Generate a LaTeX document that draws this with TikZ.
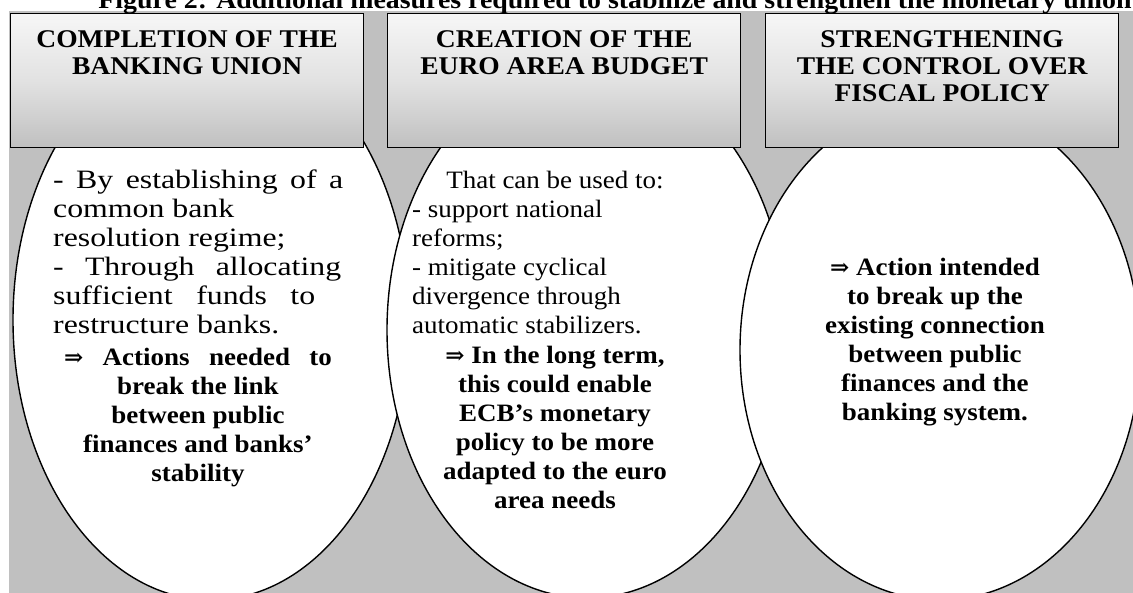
\documentclass[tikz,border=0pt]{standalone}
\usepackage{fontspec}
\setmainfont{Liberation Serif}[FakeStretch=1.08]
\newfontfamily\widefont{Liberation Serif}[FakeStretch=1.2]
\newfontfamily\arrowfont{DejaVu Serif}
\usetikzlibrary{shapes.geometric,calc}
\definecolor{panelgray}{HTML}{C0C0C0}
\definecolor{boxtop}{HTML}{F6F6F6}
\definecolor{boxmid}{HTML}{E2E2E2}
\newcommand{\hsz}{\fontsize{25.5}{27}\selectfont}
\newcommand{\bsz}{\fontsize{25}{29}\selectfont}
\newcommand{\lsz}{\widefont\fontsize{26.5}{29}\selectfont}
\newcommand{\impl}{{\arrowfont\fontsize{23}{29}\selectfont ⇒}}
\begin{document}
\begin{tikzpicture}[x=1pt,y=-1pt,
  oval/.style={ellipse, draw=black, line width=1.4pt, fill=white, inner sep=0pt},
  headbox/.style={draw=black, line width=1.3pt, top color=boxtop, bottom color=panelgray,
    middle color=boxmid, minimum width=353pt, minimum height=134pt, inner sep=0pt, anchor=north west},
  headtxt/.style={font=\bfseries\hsz, align=center, anchor=north, inner sep=0pt},
  bodytxt/.style={font=\bsz, align=left, anchor=north west, inner sep=0pt},
  boldtxt/.style={font=\bfseries\bsz, align=center, anchor=north, inner sep=0pt}]
\useasboundingbox (0,0) rectangle (1133,592);
\clip (0,0) rectangle (1133,592);
% grey panel behind the three columns
\fill[panelgray] (9,11) rectangle (1140,600);
% title line
\node[font=\bfseries\fontsize{25.8}{27}\selectfont, anchor=base] (title) at (615,8)
  {Figure 2: Additional measures required to stabilize and strengthen the monetary union};
% the three ovals, each one lying over its left neighbour
\node[oval, minimum width=396pt, minimum height=560pt] (e1) at (211,320) {};
\node[oval, minimum width=400pt, minimum height=536pt] (e2) at (587,330) {};
\node[oval, minimum width=400pt, minimum height=500pt] (e3) at (940,350) {};
% the three headings
\node[headbox] (b1) at (10,13) {};
\node[headbox] (b2) at (387,13) {};
\node[headbox] (b3) at (765,13) {};
\node[headtxt] (h1) at ($(b1.north)+(0,17)$) {COMPLETION OF THE\\BANKING UNION};
\node[headtxt] (h2) at ($(b2.north)+(0,17)$) {CREATION OF THE\\EURO AREA BUDGET};
\node[headtxt] (h3) at ($(b3.north)+(0,17)$) {STRENGTHENING\\THE CONTROL OVER\\FISCAL POLICY};
% column 1
\node[bodytxt, font=\lsz] (t1) at (53,170) {\makebox[290pt][s]{- By establishing of a}\\common bank\\resolution regime;\\\makebox[288pt][s]{- Through allocating}\\\makebox[262pt][s]{sufficient funds to}\\restructure banks.};
\node[boldtxt] (u1) at (198,348) {\makebox[268pt][s]{\impl{} Actions needed to}\\break the link\\between public\\finances and banks'\\stability};
% column 2
\node[font=\bsz, anchor=north, inner sep=0pt] (s2) at (555,171) {That can be used to:};
\node[bodytxt] (t2) at (412,200) {- support national\\reforms;\\- mitigate cyclical\\divergence through\\automatic stabilizers.};
\node[boldtxt] (u2) at (555,346) {\impl{} In the long term,\\this could enable\\ECB's monetary\\policy to be more\\adapted to the euro\\area needs};
% column 3
\node[boldtxt] (u3) at (935,258) {\impl{} Action intended\\to break up the\\existing connection\\between public\\finances and the\\banking system.};
\end{tikzpicture}
\end{document}
